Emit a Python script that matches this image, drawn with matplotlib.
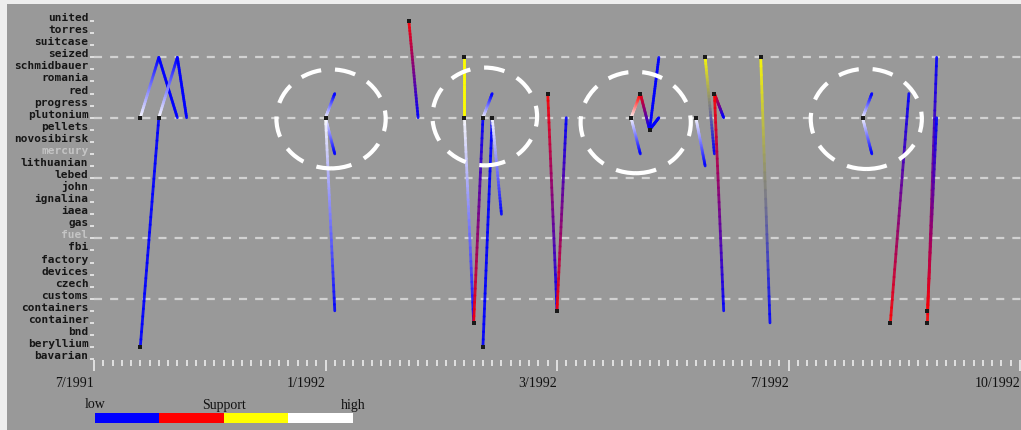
import numpy as np
import matplotlib
matplotlib.use('Agg')
import matplotlib.pyplot as plt
from matplotlib.collections import LineCollection
from matplotlib.patches import Ellipse, Rectangle
from matplotlib.colors import ListedColormap, to_rgb

plt.rcParams['lines.scale_dashes'] = False

# ---------------- data ----------------
categories = ['bavarian', 'beryllium', 'bnd', 'container', 'containers', 'customs',
              'czech', 'devices', 'factory', 'fbi', 'fuel', 'gas', 'iaea', 'ignalina',
              'john', 'lebed', 'lithuanian', 'mercury', 'novosibirsk', 'pellets',
              'plutonium', 'progress', 'red', 'romania', 'schmidbauer', 'seized',
              'suitcase', 'torres', 'united']
faded_categories = ['mercury', 'fuel']
grid_categories = ['customs', 'fuel', 'lebed', 'plutonium', 'seized']

tick_weeks = [0, 25, 50, 75, 100]
tick_labels = ['7/1991', '1/1992', '3/1992', '7/1992', '10/1992']

support_colors = ['#0000ff', '#ff0000', '#ffff00', '#ffffff']   # low -> high
support_names = ['low', 'Support', 'high']

# segments: start week / keyword / support class -> end week / keyword / support class
seg_x0 = [5, 5, 7, 7, 9, 25, 25, 25, 34, 40, 40, 41, 42, 42, 43, 49, 50,
          58, 59, 60, 60, 58, 65, 66, 67, 67, 72, 83, 83, 86, 90, 90]
seg_y0 = ['beryllium', 'plutonium', 'seized', 'plutonium', 'seized',
          'plutonium', 'plutonium', 'plutonium', 'united', 'seized', 'plutonium',
          'container', 'plutonium', 'beryllium', 'plutonium', 'red', 'containers',
          'plutonium', 'red', 'pellets', 'pellets', 'plutonium', 'plutonium',
          'seized', 'red', 'red', 'seized', 'plutonium', 'plutonium',
          'container', 'container', 'containers']
seg_c0 = [0, 3, 0, 3, 0, 3, 3, 3, 1, 2, 3, 1, 3, 0, 3, 1, 1,
          3, 1, 0, 0, 3, 3, 2, 1, 1, 2, 3, 3, 1, 1, 1]
seg_x1 = [7, 7, 9, 9, 10, 26, 26, 26, 35, 40, 41, 42, 43, 43, 44, 50, 51,
          59, 60, 61, 61, 59, 66, 67, 68, 68, 73, 84, 84, 88, 91, 91]
seg_y1 = ['plutonium', 'seized', 'plutonium', 'seized', 'plutonium',
          'red', 'mercury', 'containers', 'plutonium', 'plutonium', 'container',
          'plutonium', 'red', 'plutonium', 'iaea', 'containers', 'plutonium',
          'red', 'pellets', 'seized', 'plutonium', 'mercury', 'lithuanian',
          'mercury', 'plutonium', 'containers', 'container', 'red', 'mercury',
          'red', 'seized', 'plutonium']
seg_c1 = [0, 0, 0, 0, 0, 0, 0, 0, 0, 2, 0, 0, 0, 0, 0, 0, 0,
          1, 0, 0, 0, 0, 0, 0, 0, 0, 0, 0, 0, 0, 0, 0]

marker_x = [5, 5, 7, 25, 34, 40, 40, 41, 42, 43, 42, 49, 50, 58, 59, 60,
            65, 66, 67, 72, 83, 86, 90, 90]
marker_y = ['beryllium', 'plutonium', 'plutonium', 'plutonium', 'united',
            'seized', 'plutonium', 'container', 'plutonium', 'plutonium',
            'beryllium', 'red', 'containers', 'plutonium', 'red', 'pellets',
            'plutonium', 'seized', 'red', 'seized', 'plutonium', 'container',
            'container', 'containers']

# highlighted regions (week, keyword-index units)
circle_x = [25.6, 42.2, 58.5, 83.4]
circle_y = [19.9, 20.1, 19.6, 19.9]
circle_w = [11.8, 11.3, 11.9, 12.0]
circle_h = [8.2, 8.1, 8.4, 8.3]

# ---------------- figure ----------------
W, H = 1021, 430
fig = plt.figure(figsize=(W / 100, H / 100), dpi=100, facecolor='#eeeeee')
fig.patches.append(Rectangle((7 / W, 0), 1 - 7 / W, (H - 4) / H,
                             transform=fig.transFigure, facecolor='#999999',
                             edgecolor='none', zorder=-10))

px_per_week = 9.26
px_per_row = 12.07
ax_left, ax_bottom_px = 94, 359.7
ax = fig.add_axes([ax_left / W, (H - ax_bottom_px) / H, (W - ax_left) / W, ax_bottom_px / H])
ax.set_facecolor('none')
ax.set_xlim(0, (W - ax_left) / px_per_week)
ax.set_ylim(-0.05, -0.05 + ax_bottom_px / px_per_row)
for s in ax.spines.values():
    s.set_visible(False)

cat_idx = {c: i for i, c in enumerate(categories)}

# grid lines
for g in grid_categories:
    ax.axhline(cat_idx[g], color='#d2d2d2', lw=1.6, ls=(0, (5.8, 5.8)), zorder=1)

# gradient segments
rgb = [np.array(to_rgb(c)) for c in support_colors]
nsub = 30
all_segs, all_cols = [], []
for x0, y0, c0, x1, y1, c1 in zip(seg_x0, seg_y0, seg_c0, seg_x1, seg_y1, seg_c1):
    ya, yb = cat_idx[y0], cat_idx[y1]
    t = np.linspace(0, 1, nsub + 1)
    xs = x0 + (x1 - x0) * t
    ys = ya + (yb - ya) * t
    for i in range(nsub):
        tm = (t[i] + t[i + 1]) / 2
        col = rgb[c0] * (1 - tm) + rgb[c1] * tm
        all_segs.append([(xs[i], ys[i]), (xs[i + 1], ys[i + 1])])
        all_cols.append((*col, 0.9))
lc = LineCollection(all_segs, colors=all_cols, linewidths=2.0, capstyle='round', zorder=3)
ax.add_collection(lc)

# markers
ax.scatter(marker_x, [cat_idx[m] for m in marker_y], marker='s', s=7,
           color='#1a1a1a', zorder=5, linewidths=0)

# highlight circles
for cx, cy, cw, ch in zip(circle_x, circle_y, circle_w, circle_h):
    ax.add_patch(Ellipse((cx, cy), cw, ch, fill=False, edgecolor='white',
                         lw=3.0, ls=(0, (15, 10)), zorder=6))

# y axis
ax.set_yticks(range(len(categories)))
ax.set_yticklabels(categories, family='DejaVu Sans Mono', fontsize=8, fontweight='bold')
for lab in ax.get_yticklabels():
    lab.set_va('baseline')
    if lab.get_text() in faded_categories:
        lab.set_color('#c4c4c4')
    else:
        lab.set_color('#161616')
ax.tick_params(axis='y', length=3, width=1.3, color='#e6e6e6', pad=1)

# x axis
ax.set_xticks(tick_weeks)
ax.set_xticks([w for w in range(0, 101) if w not in tick_weeks], minor=True)
ax.set_xticklabels(tick_labels, family='Liberation Serif', fontsize=10, color='#111111')
for lab in ax.get_xticklabels():
    lab.set_ha('right')
ax.tick_params(axis='x', which='major', length=8, width=1.4, color='#e0e0e0', pad=4.5)
ax.tick_params(axis='x', which='minor', length=4.3, width=1.4, color='#e0e0e0')

# legend bar
lax = fig.add_axes([95 / W, 7 / H, 258 / W, 10 / H])
lax.imshow([np.arange(len(support_colors))], cmap=ListedColormap(support_colors),
           aspect='auto', extent=(0, 1, 0, 1), interpolation='nearest')
lax.set_axis_off()
for xpos, name in zip([0, 0.5, 1], support_names):
    lax.text(xpos, 1.15, name, transform=lax.transAxes, ha='center', va='bottom',
             family='Liberation Serif', fontsize=10, color='#111111')

fig.savefig('out.png', dpi=100, facecolor=fig.get_facecolor())
